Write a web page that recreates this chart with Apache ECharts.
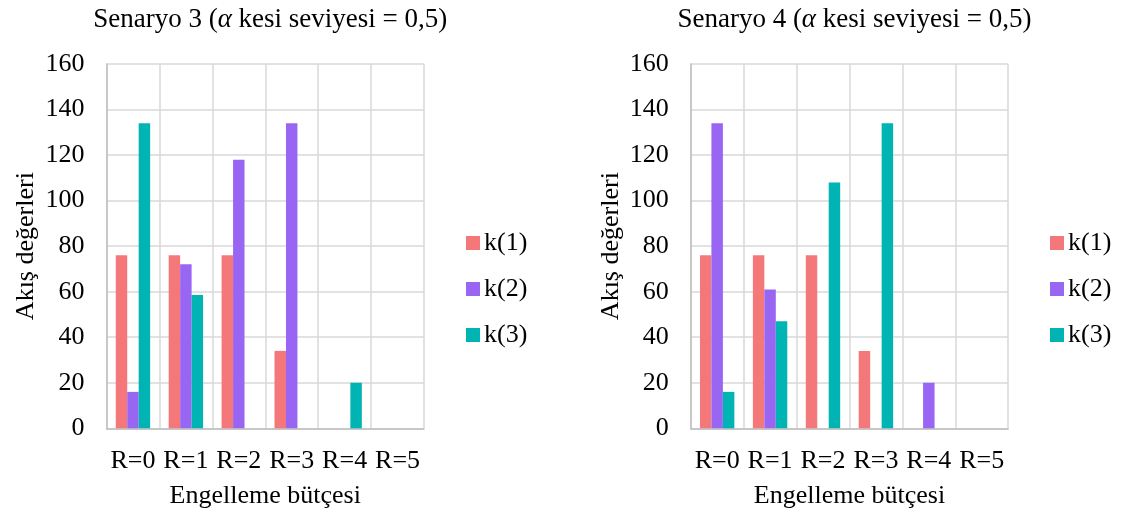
<!DOCTYPE html>
<html>
<head>
<meta charset="utf-8">
<script src="https://cdn.jsdelivr.net/npm/echarts@6/dist/echarts.min.js"></script>
<style>
  html, body { margin: 0; padding: 0; background: #fff; }
  #chart { width: 1122px; height: 518px; }
</style>
</head>
<body>
<div id="chart"></div>
<script>
// Budget categories (x axis)
const categories = ['R=0', 'R=1', 'R=2', 'R=3', 'R=4', 'R=5'];
const seriesNames = ['k(1)', 'k(2)', 'k(3)'];
const yTicks = { min: 0, max: 160, interval: 20 };

// Scenario 3 flow values
const s3k1 = [76, 76, 76, 34, 0, 0];
const s3k2 = [16, 72, 118, 134, 0, 0];
const s3k3 = [134, 58.5, 0, 0, 20, 0];

// Scenario 4 flow values
const s4k1 = [76, 76, 76, 34, 0, 0];
const s4k2 = [134, 61, 0, 0, 20, 0];
const s4k3 = [16, 47, 108, 134, 0, 0];

const colors = ['#F4787A', '#9966F4', '#00B4B3'];
const FONT = '"Liberation Serif", "Times New Roman", serif';
const FS = 26;
const TITLE_FS = 27;

const panels = [
  { title: 'Senaryo 3', data: [s3k1, s3k2, s3k3], left: 106.5, legendLeft: 466 },
  { title: 'Senaryo 4', data: [s4k1, s4k2, s4k3], left: 690.7, legendLeft: 1050 }
];
const gridW = 317.5, gridTop = 64, gridH = 364.3;

const chart = echarts.init(document.getElementById('chart'), null, { renderer: 'canvas' });

const option = {
  animation: false,
  color: colors,
  textStyle: { fontFamily: FONT, color: '#000' },
  title: panels.map(p => ({
    text: '{n|' + p.title + ' (}{a|α}{n| kesi seviyesi = 0,5)}',
    left: p.left + gridW / 2,
    textAlign: 'center',
    top: 1,
    textStyle: {
      fontWeight: 'normal',
      rich: {
        n: { fontFamily: FONT, fontSize: TITLE_FS, fontWeight: 'normal', color: '#000' },
        a: { fontFamily: FONT, fontSize: TITLE_FS, fontWeight: 'normal', fontStyle: 'italic', color: '#000' }
      }
    }
  })),
  legend: panels.map(p => ({
    data: seriesNames,
    orient: 'vertical',
    left: p.legendLeft,
    top: 230,
    padding: 0,
    itemWidth: 14,
    itemHeight: 14,
    itemGap: 20,
    icon: 'rect',
    textStyle: { fontFamily: FONT, fontSize: FS, color: '#000', padding: [0, 0, 0, -1] }
  })),
  grid: panels.map(p => ({
    left: p.left, top: gridTop, width: gridW, height: gridH, containLabel: false
  })),
  xAxis: panels.map((p, i) => ({
    type: 'category',
    gridIndex: i,
    data: categories,
    name: 'Engelleme bütçesi',
    nameLocation: 'middle',
    nameGap: 55,
    nameTextStyle: { fontFamily: FONT, fontSize: FS, color: '#000' },
    axisLine: { lineStyle: { color: '#BFBFBF', width: 1.5 } },
    axisTick: { show: false },
    axisLabel: { fontFamily: FONT, fontSize: FS, color: '#000', margin: 20, interval: 0 },
    splitLine: { show: true, lineStyle: { color: '#D9D9D9', width: 1.5 } }
  })),
  yAxis: panels.map((p, i) => ({
    type: 'value',
    gridIndex: i,
    min: yTicks.min,
    max: yTicks.max,
    interval: yTicks.interval,
    name: 'Akış değerleri',
    nameLocation: 'middle',
    nameGap: 67,
    nameTextStyle: { fontFamily: FONT, fontSize: FS, color: '#000' },
    axisLine: { show: true, lineStyle: { color: '#BFBFBF', width: 1.5 } },
    axisTick: { show: false },
    axisLabel: { fontFamily: FONT, fontSize: FS, color: '#000', margin: 22 },
    splitLine: { show: true, lineStyle: { color: '#D9D9D9', width: 1.5 } }
  })),
  series: []
};

panels.forEach((p, gi) => {
  seriesNames.forEach((name, si) => {
    option.series.push({
      name: name,
      type: 'bar',
      xAxisIndex: gi,
      yAxisIndex: gi,
      data: p.data[si],
      barGap: '0%',
      barCategoryGap: '35%',
      itemStyle: { color: colors[si] }
    });
  });
});

chart.setOption(option);
</script>
</body>
</html>
